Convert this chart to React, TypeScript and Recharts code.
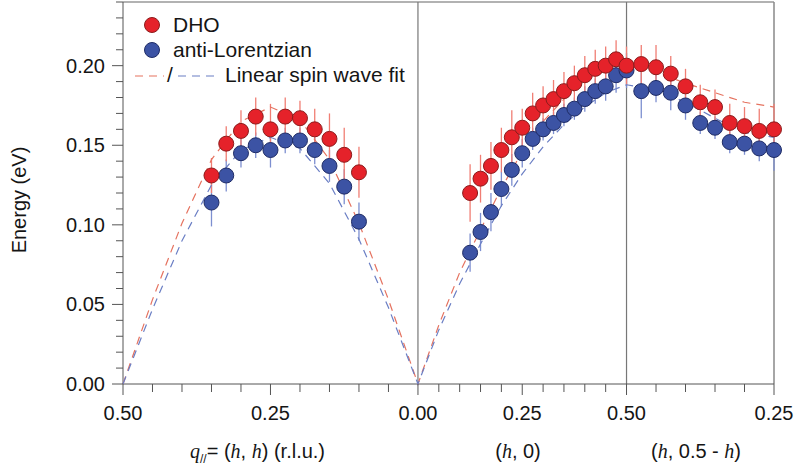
import React from 'react';
import { ScatterChart, Scatter, XAxis, YAxis, ErrorBar, ReferenceLine } from 'recharts';

// path along the zone: (h, h) 0.5 -> 0, (h, 0) 0 -> 0.5, (h, 0.5 - h) 0.5 -> 0.25
// x coordinate is the arc length in r.l.u.
const SQ2 = Math.SQRT2;
const X_GAMMA = SQ2 * 0.5;
const X_M = X_GAMMA + 0.5;
const X_END = X_M + SQ2 * 0.25;
const toHH = (h: number) => SQ2 * (0.5 - h);
const toH0 = (h: number) => X_GAMMA + h;
const toZB = (h: number) => X_M + SQ2 * (0.5 - h);

// (h, h)
const hhH = [0.35, 0.325, 0.3, 0.275, 0.25, 0.225, 0.2, 0.175, 0.15, 0.125, 0.1];
const hhDho = [0.131, 0.151, 0.159, 0.168, 0.16, 0.168, 0.167, 0.16, 0.154, 0.144, 0.133];
const hhDhoErr = [0.011, 0.011, 0.013, 0.012, 0.016, 0.012, 0.011, 0.013, 0.016, 0.017, 0.016];
const hhAL = [0.114, 0.131, 0.145, 0.15, 0.147, 0.153, 0.153, 0.147, 0.137, 0.124, 0.102];
const hhALErr = [0.015, 0.01, 0.009, 0.008, 0.011, 0.008, 0.008, 0.009, 0.01, 0.011, 0.012];

// (h, 0)
const h0H = [0.125, 0.15, 0.175, 0.2, 0.225, 0.25, 0.275, 0.3, 0.325, 0.35, 0.375, 0.4, 0.425, 0.45, 0.475, 0.5];
const h0Dho = [0.12, 0.129, 0.137, 0.147, 0.155, 0.161, 0.17, 0.175, 0.179, 0.184, 0.189, 0.194, 0.198, 0.2, 0.204, 0.2];
const h0DhoErr = [0.018, 0.015, 0.015, 0.014, 0.017, 0.012, 0.013, 0.012, 0.012, 0.012, 0.011, 0.012, 0.012, 0.012, 0.012, 0.012];
const h0AL = [0.0825, 0.0955, 0.108, 0.1225, 0.1345, 0.145, 0.154, 0.16, 0.164, 0.169, 0.173, 0.179, 0.184, 0.187, 0.194, 0.197];
const h0ALErr = [0.012, 0.012, 0.012, 0.011, 0.01, 0.009, 0.007, 0.007, 0.007, 0.007, 0.007, 0.008, 0.008, 0.009, 0.011, 0.011];

// (h, 0.5 - h)
const zbH = [0.475, 0.45, 0.425, 0.4, 0.375, 0.35, 0.325, 0.3, 0.275, 0.25];
const zbDho = [0.201, 0.199, 0.195, 0.187, 0.177, 0.174, 0.164, 0.162, 0.159, 0.16];
const zbDhoErr = [0.012, 0.014, 0.011, 0.011, 0.011, 0.011, 0.012, 0.012, 0.014, 0.016];
const zbAL = [0.184, 0.186, 0.183, 0.175, 0.164, 0.161, 0.152, 0.151, 0.148, 0.147];
const zbALErr = [0.017, 0.009, 0.011, 0.009, 0.007, 0.007, 0.007, 0.007, 0.008, 0.013];

// linear spin wave fits
const fitH1 = [0.5, 0.45, 0.4, 0.35, 0.3, 0.25, 0.2, 0.15, 0.1, 0.05, 0];
const fitDho1 = [0, 0.053, 0.101, 0.141, 0.165, 0.174, 0.166, 0.141, 0.101, 0.053, 0];
const fitAL1 = [0, 0.047, 0.09, 0.125, 0.147, 0.155, 0.148, 0.126, 0.091, 0.048, 0];
const fitH2 = [0.05, 0.1, 0.15, 0.2, 0.25, 0.3, 0.35, 0.4, 0.45, 0.5];
const fitDho2 = [0.037, 0.07, 0.097, 0.123, 0.146, 0.165, 0.179, 0.19, 0.197, 0.2];
const fitAL2 = [0.034, 0.063, 0.088, 0.112, 0.132, 0.149, 0.163, 0.174, 0.183, 0.188];
const fitH3 = [0.45, 0.4, 0.35, 0.3, 0.25];
const fitDho3 = [0.196, 0.189, 0.183, 0.177, 0.174];
const fitAL3 = [0.185, 0.177, 0.167, 0.158, 0.155];

// axis ticks
const hhTickH = [0.5, 0.45, 0.4, 0.35, 0.3, 0.25, 0.2, 0.15, 0.1, 0.05, 0];
const h0TickH = [0.05, 0.1, 0.15, 0.2, 0.25, 0.3, 0.35, 0.4, 0.45, 0.5];
const zbTickH = [0.45, 0.4, 0.35, 0.3, 0.25];
const hhLabelH = [0.5, 0.25, 0];
const hhLabels = ['0.50', '0.25', '0.00'];
const h0LabelH = [0.25, 0.5];
const h0Labels = ['0.25', '0.50'];
const zbLabelH = [0.25];
const zbLabels = ['0.25'];
const yMajor = [0, 0.05, 0.1, 0.15, 0.2];
const yLabels = ['0.00', '0.05', '0.10', '0.15', '0.20'];
const Y_MAX = 0.24;

const FONT = '"Liberation Sans", Arial, sans-serif';
const SERIF = '"Liberation Serif", "Times New Roman", serif';
const RED = '#e5222a';
const RED_EDGE = '#8c1c1c';
const BLUE = '#3c53a4';
const BLUE_EDGE = '#1f2c66';
const RED_BAR = '#f07e74';
const BLUE_BAR = '#7d8fd0';
const RED_FIT = '#e5725f';
const BLUE_FIT = '#6a7ec4';
const AXIS = '#555';
const TEXT = '#151515';

const pts = (hs: number[], ys: number[], errs: number[] | null, conv: (h: number) => number) =>
  hs.map((h, i) => ({ x: conv(h), y: ys[i], err: errs ? errs[i] : 0 }));

const dhoData = [
  ...pts(hhH, hhDho, hhDhoErr, toHH),
  ...pts(h0H, h0Dho, h0DhoErr, toH0),
  ...pts(zbH, zbDho, zbDhoErr, toZB),
];
const alData = [
  ...pts(hhH, hhAL, hhALErr, toHH),
  ...pts(h0H, h0AL, h0ALErr, toH0),
  ...pts(zbH, zbAL, zbALErr, toZB),
];
const dhoFit = [...pts(fitH1, fitDho1, null, toHH), ...pts(fitH2, fitDho2, null, toH0), ...pts(fitH3, fitDho3, null, toZB)];
const alFit = [...pts(fitH1, fitAL1, null, toHH), ...pts(fitH2, fitAL2, null, toH0), ...pts(fitH3, fitAL3, null, toZB)];

const xTicks = [...hhTickH.map(toHH), ...h0TickH.map(toH0), ...zbTickH.map(toZB)];
const xLabelPos = [
  ...hhLabelH.map((h, i) => ({ x: toHH(h), label: hhLabels[i] })),
  ...h0LabelH.map((h, i) => ({ x: toH0(h), label: h0Labels[i] })),
  ...zbLabelH.map((h, i) => ({ x: toZB(h), label: zbLabels[i] })),
];
const yTicks = Array.from({ length: 25 }, (_, i) => i / 100);

const near = (a: number, b: number) => Math.abs(a - b) < 1e-6;

const XTick = ({ x, y, payload }: any) => {
  const hit = xLabelPos.find((p) => near(p.x, payload.value));
  return (
    <g>
      <line x1={x} x2={x} y1={y} y2={y + (hit ? 11 : 8)} stroke={AXIS} strokeWidth={1} />
      {hit && (
        <text x={x} y={y + 36} textAnchor="middle" fontFamily={FONT} fontSize={20} fill={TEXT}>
          {hit.label}
        </text>
      )}
    </g>
  );
};

const YTick = ({ x, y, payload }: any) => {
  const idx = yMajor.findIndex((v) => near(v, payload.value));
  return (
    <g>
      <line x1={x - (idx >= 0 ? 11 : 7)} x2={x} y1={y} y2={y} stroke={AXIS} strokeWidth={1} />
      {idx >= 0 && (
        <text x={x - 18} y={y + 7} textAnchor="end" fontFamily={FONT} fontSize={20} fill={TEXT}>
          {yLabels[idx]}
        </text>
      )}
    </g>
  );
};

const Dot = (fill: string, edge: string) => (props: any) => (
  <circle cx={props.cx} cy={props.cy} r={7.5} fill={fill} stroke={edge} strokeWidth={1} />
);
const NoDot = () => <g />;

export default function App() {
  return (
    <div style={{ position: 'absolute', left: 0, top: 0, width: 796, height: 471, background: '#fff' }}>
      <ScatterChart width={796} height={471} margin={{ top: 2, right: 22, bottom: 0, left: 0 }}>
        <XAxis
          type="number"
          dataKey="x"
          domain={[0, X_END]}
          ticks={xTicks}
          interval={0}
          tick={<XTick />}
          tickLine={false}
          tickSize={0}
          tickMargin={0}
          height={87}
          stroke={AXIS}
        />
        <YAxis
          type="number"
          dataKey="y"
          domain={[0, Y_MAX]}
          ticks={yTicks}
          interval={0}
          tick={<YTick />}
          tickLine={false}
          tickSize={0}
          tickMargin={0}
          width={123}
          stroke={AXIS}
        />
        <ReferenceLine y={Y_MAX} stroke="#999" strokeWidth={1.5} />
        <ReferenceLine x={X_END} stroke="#888" strokeWidth={1.5} />
        <ReferenceLine x={X_GAMMA} stroke="#777" strokeWidth={1.2} />
        <ReferenceLine x={X_M} stroke="#777" strokeWidth={1.2} />
        <Scatter
          data={dhoFit}
          shape={NoDot}
          line={{ stroke: RED_FIT, strokeWidth: 1.2, strokeDasharray: '8 6' }}
          isAnimationActive={false}
        />
        <Scatter
          data={alFit}
          shape={NoDot}
          line={{ stroke: BLUE_FIT, strokeWidth: 1.2, strokeDasharray: '8 6' }}
          isAnimationActive={false}
        />
        <Scatter data={alData} shape={Dot(BLUE, BLUE_EDGE)} isAnimationActive={false}>
          <ErrorBar dataKey="err" direction="y" width={0} stroke={BLUE_BAR} strokeWidth={1.3} />
        </Scatter>
        <Scatter data={dhoData} shape={Dot(RED, RED_EDGE)} isAnimationActive={false}>
          <ErrorBar dataKey="err" direction="y" width={0} stroke={RED_BAR} strokeWidth={1.3} />
        </Scatter>
      </ScatterChart>
      <svg
        width={796}
        height={471}
        style={{ position: 'absolute', left: 0, top: 0, pointerEvents: 'none' }}
        fontFamily={FONT}
        fill={TEXT}
      >
        {/* legend */}
        <circle cx={152} cy={25} r={7.5} fill={RED} stroke={RED_EDGE} />
        <text x={173} y={32} fontSize={21}>DHO</text>
        <circle cx={152} cy={50} r={7.5} fill={BLUE} stroke={BLUE_EDGE} />
        <text x={173} y={57} fontSize={21}>anti-Lorentzian</text>
        <line x1={135} x2={164} y1={76} y2={76} stroke={RED_FIT} strokeWidth={1.2} strokeDasharray="8 6" />
        <text x={167} y={82} fontSize={21}>/</text>
        <line x1={178} x2={216} y1={76} y2={76} stroke={BLUE_FIT} strokeWidth={1.2} strokeDasharray="8 6" />
        <text x={225} y={82} fontSize={21}>Linear spin wave fit</text>
        {/* axis titles */}
        <text x={26} y={200} fontSize={20} textAnchor="middle" transform="rotate(-90 26 200)">
          Energy (eV)
        </text>
        <text x={190} y={458} fontSize={20}>
          <tspan fontFamily={SERIF} fontStyle="italic">q</tspan>
          <tspan fontSize={12} dy={5}>//</tspan>
          <tspan dy={-5}>= (</tspan>
          <tspan fontFamily={SERIF} fontStyle="italic">h</tspan>
          <tspan>, </tspan>
          <tspan fontFamily={SERIF} fontStyle="italic">h</tspan>
          <tspan>) (r.l.u.)</tspan>
        </text>
        <text x={518} y={458} fontSize={20} textAnchor="middle">
          <tspan>(</tspan>
          <tspan fontFamily={SERIF} fontStyle="italic">h</tspan>
          <tspan>, 0)</tspan>
        </text>
        <text x={696} y={458} fontSize={20} textAnchor="middle">
          <tspan>(</tspan>
          <tspan fontFamily={SERIF} fontStyle="italic">h</tspan>
          <tspan>, 0.5 - </tspan>
          <tspan fontFamily={SERIF} fontStyle="italic">h</tspan>
          <tspan>)</tspan>
        </text>
      </svg>
    </div>
  );
}
